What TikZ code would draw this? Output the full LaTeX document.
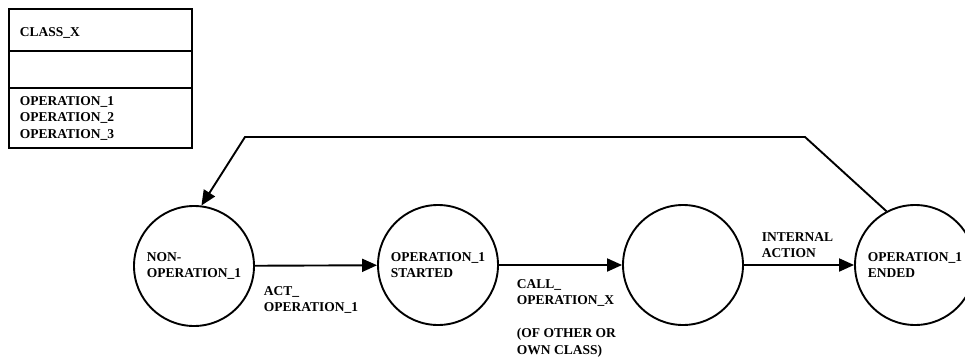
\documentclass[tikz,border=0pt]{standalone}
\usepackage{fontspec}
\setmainfont{Liberation Serif}
\usetikzlibrary{arrows.meta}
\newcommand{\dfont}{\fontsize{13.5}{16.5}\selectfont\bfseries}
\begin{document}
\begin{tikzpicture}[x=1pt,y=-1pt, line width=1.9pt,
  state/.style={circle,draw,minimum size=120pt,inner sep=0pt,align=left,font=\dfont},
  txt/.style={inner sep=0pt,align=left,font=\dfont},
  arr/.style={-{Triangle[length=15pt,width=13pt]}}]
\useasboundingbox (0,0) rectangle (965,358);
% class box
\draw (9,9) rectangle (192,148);
\draw (9,51) -- (192,51);
\draw (9,88) -- (192,88);
\node[txt,anchor=north west] (cname) at (19,26.5) {CLASS\_X};
\node[txt,anchor=north west] (cops) at (19,95.5) {OPERATION\_1\\OPERATION\_2\\OPERATION\_3};
% states
\node[state] (c1) at (194,266) {NON-\\OPERATION\_1};
\node[state] (c2) at (438,265) {OPERATION\_1\\STARTED};
\node[state] (c3) at (683,265) {};
\node[state] (c4) at (915,265) {OPERATION\_1\\ENDED};
% transitions
\draw[arr] (c1) -- (c2);
\draw[arr] (c2) -- (c3);
\draw[arr] (c3) -- (c4);
\coordinate (k1) at (805,137);
\coordinate (k2) at (245,137);
\draw[arr] (c4.118) -- (k1) -- (k2) -- (c1.83);
% labels
\node[txt,anchor=north west] (l1) at (263,285.5) {ACT\_\\OPERATION\_1};
\node[txt,anchor=north west] (l2) at (516,278.5) {CALL\_\\OPERATION\_X\\[16.5pt](OF OTHER OR\\OWN CLASS)};
\node[txt,anchor=north west] (l3) at (761,231.5) {INTERNAL\\ACTION};
\end{tikzpicture}
\end{document}
